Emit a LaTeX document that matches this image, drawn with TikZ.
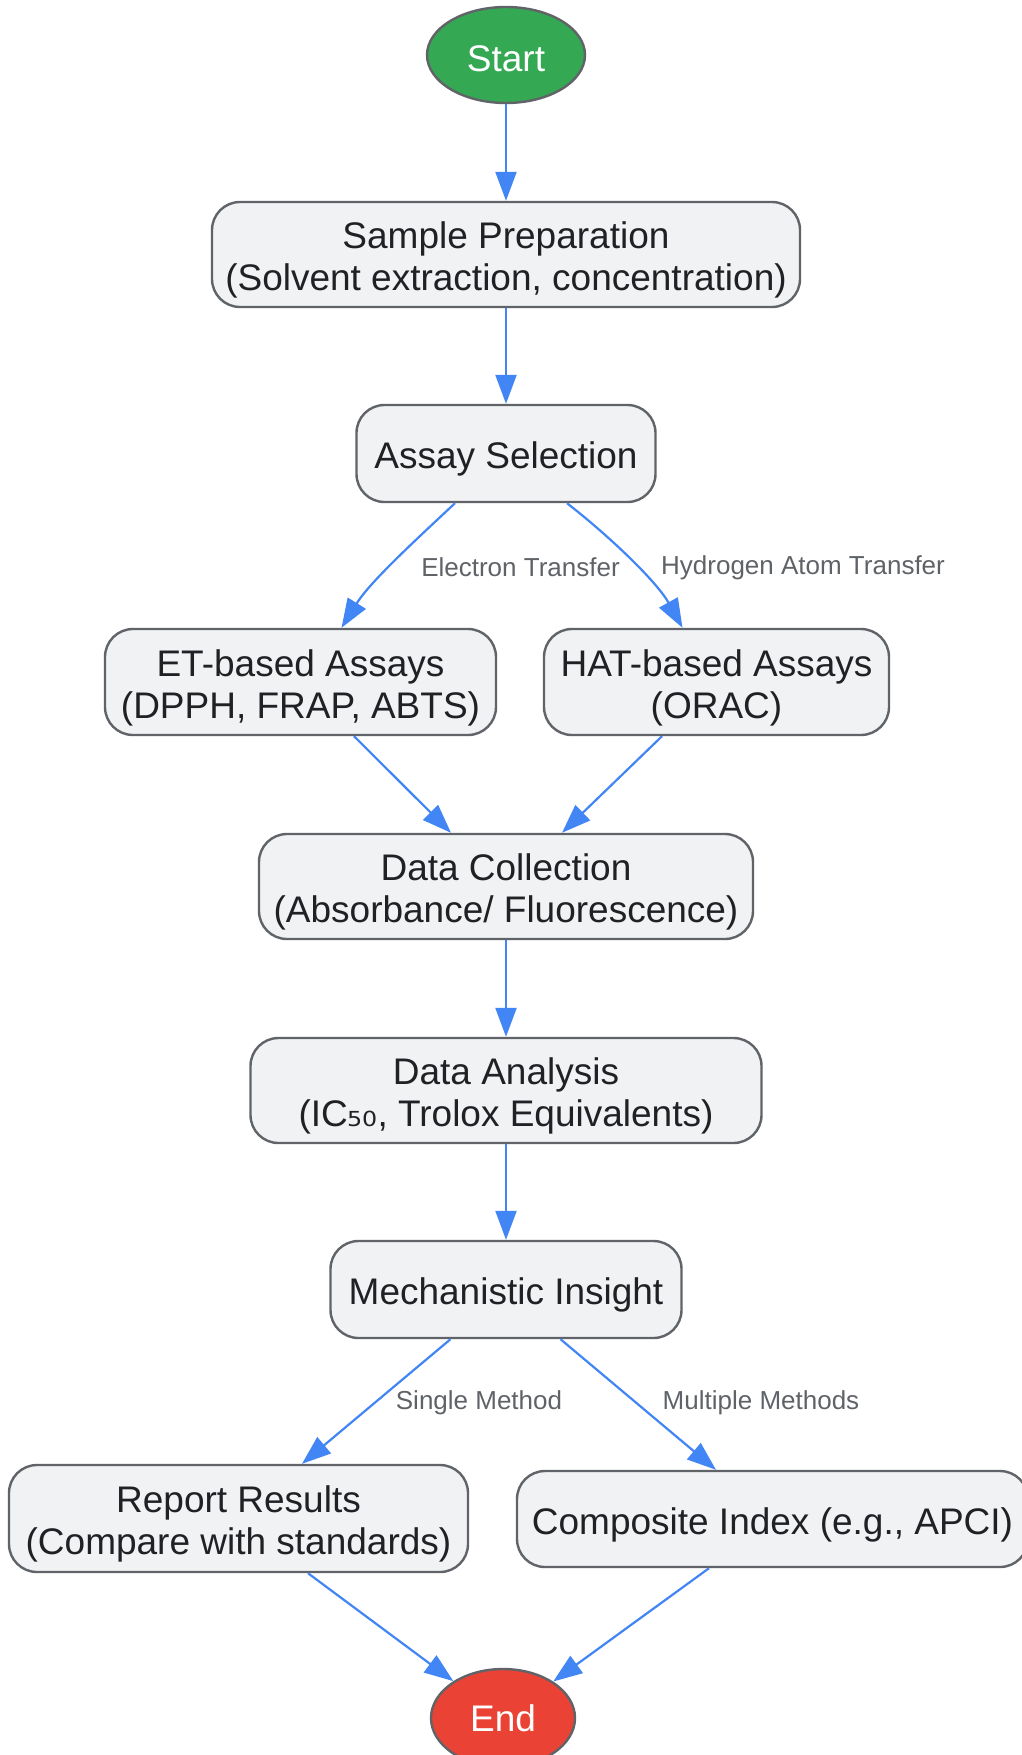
\documentclass[tikz,border=0pt]{standalone}
\usepackage{fontspec}
\setmainfont{Liberation Sans}
\newfontfamily\subsfont{DejaVu Sans}
\usepackage{tikz}
\usetikzlibrary{positioning, shapes, arrows.meta, calc}
\definecolor{flowblue}{HTML}{4285F4}
\definecolor{boxfill}{HTML}{F1F2F4}
\definecolor{boxline}{HTML}{606368}
\definecolor{txtdark}{HTML}{202124}
\definecolor{lblgray}{HTML}{5F6368}
\definecolor{startgreen}{HTML}{34A853}
\definecolor{endred}{HTML}{EA4335}
\newcommand{\boxstrut}{\rule{0pt}{38pt}}

\begin{document}
\begin{tikzpicture}[x=1pt, y=-1pt, ->, >={Triangle[length=29pt,width=21pt]},
  every edge/.style={draw=flowblue, line width=2.2pt},
  box/.style={draw=boxline, line width=2.4pt, fill=boxfill, rounded corners=28pt,
    align=center, text=txtdark, font=\fontsize{37}{42}\selectfont, inner sep=4pt},
  terminal/.style={draw=boxline, line width=2.4pt, ellipse, inner sep=0pt,
    text=white, font=\fontsize{37}{42}\selectfont},
  lbl/.style={text=lblgray, font=\fontsize{26}{30}\selectfont, inner sep=0pt}]
  \fill[white] (0,0) rectangle (1021,1755);
  \useasboundingbox (0,0) rectangle (1021,1755);

  % nodes
  \node[terminal, fill=startgreen, minimum width=158pt, minimum height=96pt] (start) at (506,55) {\rule{0pt}{33pt}Start};
  \node[box, minimum width=588pt, minimum height=105pt] (prep) at (506,254.5) {\boxstrut Sample Preparation\\(Solvent extraction, concentration)};
  \node[box, minimum width=299pt, minimum height=97pt] (select) at (506,453.5) {\boxstrut Assay Selection};
  \node[box, minimum width=391pt, minimum height=106pt] (et) at (300.5,682) {\boxstrut ET-based Assays\\(DPPH, FRAP, ABTS)};
  \node[box, minimum width=345pt, minimum height=106pt] (hat) at (716.5,682) {\boxstrut HAT-based Assays\\(ORAC)};
  \node[box, minimum width=494pt, minimum height=105pt] (collect) at (506,886.5) {\boxstrut Data Collection\\(Absorbance/ Fluorescence)};
  \node[box, minimum width=511pt, minimum height=105pt] (analysis) at (506,1090.5) {\boxstrut Data Analysis\\(IC{\subsfont ₅₀}, Trolox Equivalents)};
  \node[box, minimum width=351pt, minimum height=97pt] (insight) at (506,1289.5) {\boxstrut Mechanistic Insight};
  \node[box, minimum width=459pt, minimum height=107pt] (report) at (238.5,1518.5) {\boxstrut Report Results\\(Compare with standards)};
  \node[box, minimum width=511pt, minimum height=96pt] (composite) at (772.5,1519) {\boxstrut Composite Index (e.g., APCI)};
  \node[terminal, fill=endred, minimum width=144pt, minimum height=98pt] (stop) at (503,1718) {End};

  % branch labels
  \node[lbl] (etlbl) at (520.5,567.5) {Electron Transfer};
  \node[lbl] (hatlbl) at (803,567.5) {Hydrogen Atom Transfer};
  \node[lbl] (singlelbl) at (479,1403) {Single Method};
  \node[lbl] (multilbl) at (761,1403) {Multiple Methods};

  \path
    (start) edge (prep)
    (prep) edge (select)
    ([xshift=53.5pt]et.south) edge ([xshift=-55pt]collect.north)
    ([xshift=-54.5pt]hat.south) edge ([xshift=56pt]collect.north)
    (collect) edge (analysis)
    (analysis) edge (insight)
    ([xshift=-55.5pt]insight.south) edge ([xshift=63.5pt]report.north)
    ([xshift=54.5pt]insight.south) edge ([xshift=-56.5pt]composite.north)
    ([xshift=69.5pt]report.south) edge (stop)
    ([xshift=-63.5pt]composite.south) edge (stop);
  \draw[draw=flowblue, line width=2.2pt]
    ([xshift=-51pt]select.south) .. controls +(-45,42) and +(28,-45) .. ([xshift=41pt]et.north);
  \draw[draw=flowblue, line width=2.2pt]
    ([xshift=61pt]select.south) .. controls +(45,35) and +(-25,-45) .. ([xshift=-34pt]hat.north);
\end{tikzpicture}
\end{document}
